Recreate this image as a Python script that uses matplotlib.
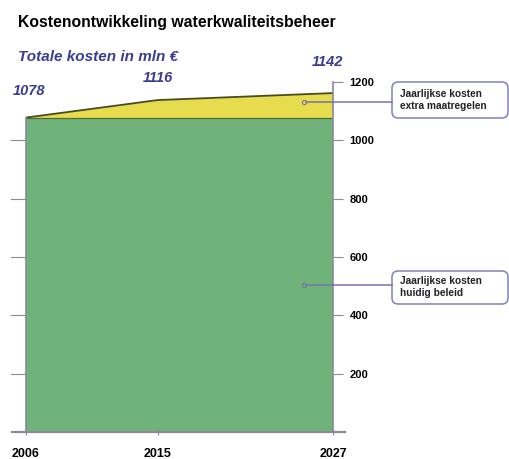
import matplotlib
matplotlib.use("Agg")
import matplotlib.pyplot as plt
from matplotlib.patches import FancyBboxPatch
import matplotlib.transforms as mtransforms
import numpy as np

years = [2006, 2015, 2027]
current_policy = [1078, 1078, 1078]
total_drawn = [1078, 1138, 1162]
label_years = [2006, 2015, 2027]
label_values = [1078, 1116, 1142]
y_ticks = [200, 400, 600, 800, 1000, 1200]
x_ticks = [2006, 2015, 2027]

title = "Kostenontwikkeling waterkwaliteitsbeheer"
subtitle = "Totale kosten in mln €"
box_extra = "Jaarlijkse kosten\nextra maatregelen"
box_current = "Jaarlijkse kosten\nhuidig beleid"

green = "#6fb37a"
yellow = "#e6dc4e"
blue = "#3c3c90"
grey = "#8a8a9a"
line_c = "#7474a8"

plt.rcParams['font.family'] = ['Liberation Sans', 'DejaVu Sans']

W, H = 510, 459
fig = plt.figure(figsize=(W/100, H/100), dpi=100)
ax = fig.add_axes([26/W, 27/H, 307/W, 350/H])
ax.set_xlim(2006, 2027)
ax.set_ylim(0, 1200)

ax.fill_between(years, 0, current_policy, color=green, lw=0)
ax.fill_between(years, current_policy, total_drawn, color=yellow, lw=0)
ax.plot(years, total_drawn, color="#4a4a20", lw=1.3)
ax.plot(years, current_policy, color="#556b2f", lw=0.9)

for s in ['top', 'bottom']:
    ax.spines[s].set_visible(False)
ax.spines['left'].set_color(grey)
ax.spines['left'].set_bounds(0, 1078)
ax.spines['right'].set_color(grey)
ax.spines['left'].set_linewidth(1.2)
ax.spines['right'].set_linewidth(1.2)

ax.set_yticks(y_ticks)
ax.yaxis.set_ticks_position('right')
ax.tick_params(axis='y', which='major', direction='out', length=7, color=grey,
               labelleft=False, labelright=True, labelsize=8, pad=5, width=0.8)
for lbl in ax.get_yticklabels():
    lbl.set_fontweight('bold')

# left-side ticks (only within the green block)
trans = mtransforms.blended_transform_factory(ax.transAxes, ax.transData)
for t in y_ticks[:-1]:
    ax.plot([-0.05, 0], [t, t], transform=trans, color=grey, lw=0.8, clip_on=False)

ax.set_xticks(x_ticks)
ax.set_xticklabels([str(x) for x in x_ticks], fontsize=9, fontweight='bold')
ax.tick_params(axis='x', direction='inout', length=5, color=grey, pad=9)

# extended baseline
ax.plot([-0.045, 1.04], [0, 0], transform=ax.transAxes, color=grey, lw=1.6, clip_on=False)

# value labels
offsets = [(2, 14), (0, 11), (-4, 17)]
for yr, v, off in zip(label_years, label_values, offsets):
    yv = np.interp(yr, years, total_drawn)
    ax.annotate(str(v), xy=(yr, yv), xytext=off, textcoords='offset points',
                ha='center', va='bottom', fontsize=10.5, fontweight='bold',
                fontstyle='italic', color=blue, annotation_clip=False)

fig.text(18/W, 1 - 22/H, title, fontsize=11.3, fontweight='bold', va='center', ha='left')
fig.text(18/W, 1 - 57/H, subtitle, fontsize=11, fontweight='bold',
         fontstyle='italic', color=blue, va='center', ha='left')

# callouts
callouts = [((2025.0, 1132), (392, 82, 116, 36), box_extra),
            ((2025.0, 504), (392, 271, 116, 33), box_current)]
for xy, (bx, by, bw, bh), txt in callouts:
    x0, y0 = bx / W, 1 - (by + bh) / H
    patch = FancyBboxPatch((x0, y0), bw / W, bh / H, transform=fig.transFigure,
                           boxstyle="round,pad=0,rounding_size=0.012",
                           fc="white", ec="#8080c0", lw=1.1, mutation_aspect=W/H)
    fig.add_artist(patch)
    fig.text(x0 + 8 / W, y0 + bh / 2 / H, txt, fontsize=7.3, fontweight='bold',
             color='#222222', ha='left', va='center', linespacing=1.25)
    ax.plot([xy[0]], [xy[1]], marker='o', ms=3, mfc='none', mec=line_c, mew=0.8)
    disp = ax.transData.transform(xy)
    fx, fy = fig.transFigure.inverted().transform(disp)
    fig.add_artist(plt.Line2D([fx + 2 / W, x0], [fy, fy], transform=fig.transFigure,
                              color=line_c, lw=1.1))

fig.savefig("out.png", dpi=100)
